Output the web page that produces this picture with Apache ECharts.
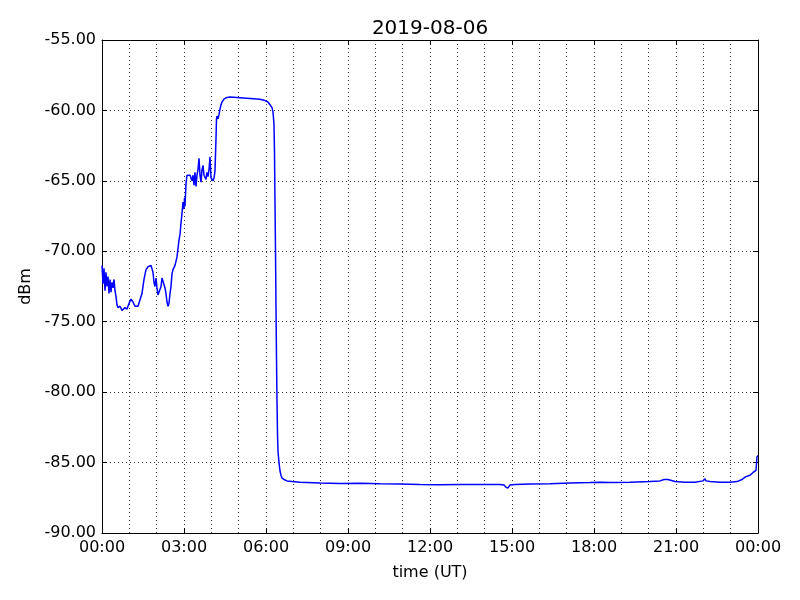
<!DOCTYPE html>
<html>
<head>
<meta charset="utf-8">
<script src="https://cdn.jsdelivr.net/npm/echarts@6/dist/echarts.min.js"></script>
<style>html,body{margin:0;padding:0;background:#fff;}#c{width:800px;height:600px;}</style>
</head>
<body>
<div id="c"></div>
<script>
// Time in hours (UT) since 2019-08-06 00:00
var hours = [0.000,0.037,0.073,0.110,0.146,0.183,0.220,0.256,0.293,0.329,0.366,0.402,0.439,0.476,0.512,0.549,0.585,0.659,0.732,0.805,0.841,0.915,0.988,1.061,1.134,1.207,1.317,1.390,1.463,1.537,1.610,1.683,1.756,1.793,1.866,1.902,1.939,1.976,2.012,2.049,2.122,2.159,2.195,2.232,2.305,2.341,2.378,2.415,2.451,2.488,2.524,2.561,2.598,2.671,2.744,2.780,2.817,2.854,2.890,2.927,2.963,3.000,3.018,3.037,3.073,3.110,3.146,3.183,3.220,3.256,3.293,3.329,3.366,3.402,3.439,3.476,3.512,3.549,3.585,3.622,3.659,3.695,3.732,3.768,3.805,3.841,3.878,3.915,3.951,3.988,4.024,4.061,4.098,4.134,4.171,4.189,4.207,4.244,4.280,4.317,4.354,4.390,4.463,4.537,4.683,5.049,5.415,5.780,5.963,6.073,6.146,6.220,6.256,6.293,6.311,6.329,6.348,6.366,6.384,6.402,6.421,6.439,6.476,6.512,6.549,6.585,6.659,6.768,6.951,7.244,7.976,8.707,9.439,10.171,10.902,11.634,12.366,13.098,13.829,14.561,14.707,14.780,14.817,14.854,14.927,15.110,15.659,16.390,17.122,17.854,18.220,18.585,19.317,20.049,20.415,20.561,20.598,20.634,20.707,20.780,20.963,21.329,21.695,21.988,22.061,22.098,22.171,22.244,22.610,22.976,23.232,23.415,23.561,23.707,23.817,23.927,23.963,24.000];
// Received power (dBm)
var dbm = [-71.0,-72.3,-71.2,-72.8,-71.5,-72.5,-71.8,-73.0,-72.0,-72.9,-72.2,-72.6,-72.0,-72.8,-73.2,-73.8,-74.0,-73.9,-74.2,-74.3,-74.0,-74.1,-73.7,-73.4,-73.6,-73.9,-73.9,-73.9,-73.0,-72.0,-71.3,-71.1,-71.2,-71.0,-71.5,-72.2,-72.5,-71.9,-72.6,-73.1,-73.2,-72.5,-71.9,-72.0,-72.6,-73.0,-73.6,-73.9,-73.7,-73.0,-72.5,-71.6,-71.3,-71.0,-70.4,-69.8,-69.2,-68.8,-68.0,-67.3,-66.5,-67.0,-66.2,-66.8,-65.2,-64.6,-64.5,-64.7,-64.6,-64.8,-65.0,-64.6,-65.3,-64.4,-65.4,-64.6,-64.2,-63.4,-64.6,-65.1,-64.2,-63.9,-64.6,-64.5,-64.9,-64.4,-64.7,-64.2,-63.3,-64.8,-64.9,-65.0,-64.8,-64.3,-62.0,-60.6,-60.4,-60.6,-60.3,-59.9,-59.6,-59.4,-59.2,-59.1,-59.05,-59.1,-59.15,-59.2,-59.3,-59.4,-59.6,-59.8,-60.1,-61.0,-63.0,-66.5,-70.0,-74.0,-77.5,-80.6,-83.0,-84.2,-85.0,-85.6,-85.9,-86.1,-86.2,-86.3,-86.35,-86.4,-86.45,-86.48,-86.47,-86.5,-86.52,-86.55,-86.57,-86.56,-86.55,-86.56,-86.6,-86.75,-86.65,-86.8,-86.6,-86.55,-86.52,-86.5,-86.45,-86.42,-86.4,-86.42,-86.4,-86.35,-86.3,-86.2,-86.1,-86.25,-86.2,-86.3,-86.35,-86.4,-86.4,-86.3,-86.15,-86.3,-86.25,-86.35,-86.4,-86.4,-86.35,-86.2,-86.0,-85.9,-85.7,-85.55,-84.6,-84.5];
var titleText = "2019-08-06";
var xName = "time (UT)";
var yName = "dBm";

var data = hours.map(function (h, i) { return [h, dbm[i]]; });
function pad(n) { return (n < 10 ? "0" : "") + n; }
var font = "DejaVu Sans";
var dotted = { color: "#000", width: 0.8, type: [1, 3] };

var chart = echarts.init(document.getElementById("c"), null, { renderer: "canvas" });
chart.setOption({
  animation: false,
  backgroundColor: "#fff",
  title: { text: titleText, left: 425, top: 14, textAlign: "center",
    textStyle: { fontFamily: font, fontSize: 20, fontWeight: "normal", color: "#000" } },
  grid: { left: 102, right: 42, top: 40, bottom: 67 },
  xAxis: [{
    type: "value", min: 0, max: 24, interval: 3,
    name: xName, nameLocation: "middle", nameGap: 32,
    nameTextStyle: { fontFamily: font, fontSize: 16, color: "#000" },
    axisLine: { onZero: false, lineStyle: { color: "#000", width: 1 } },
    axisTick: { inside: true, length: 5, lineStyle: { color: "#000" } },
    minorTick: { show: false, splitNumber: 3 },
    axisLabel: { fontFamily: font, fontSize: 16, color: "#000", margin: 7,
      formatter: function (v) { return pad(Math.round(v) % 24) + ":00"; } },
    splitLine: { show: true, lineStyle: dotted },
    minorSplitLine: { show: true, lineStyle: dotted }
  }, {
    type: "value", min: 0, max: 24, interval: 3, position: "top",
    axisLine: { onZero: false, lineStyle: { color: "#000", width: 1 } },
    axisTick: { inside: true, length: 5, lineStyle: { color: "#000" } },
    axisLabel: { show: false }, splitLine: { show: false }
  }],
  yAxis: [{
    type: "value", min: -90, max: -55, interval: 5,
    name: yName, nameLocation: "middle", nameGap: 68, nameRotate: 90,
    nameTextStyle: { fontFamily: font, fontSize: 16, color: "#000" },
    axisLine: { onZero: false, lineStyle: { color: "#000", width: 1 } },
    axisTick: { inside: true, length: 5, lineStyle: { color: "#000" } },
    axisLabel: { fontFamily: font, fontSize: 16, color: "#000", margin: 6,
      formatter: function (v) { return v.toFixed(2); } },
    splitLine: { show: true, lineStyle: dotted }
  }, {
    type: "value", min: -90, max: -55, interval: 5, position: "right",
    axisLine: { onZero: false, lineStyle: { color: "#000", width: 1 } },
    axisTick: { inside: true, length: 5, lineStyle: { color: "#000" } },
    axisLabel: { show: false }, splitLine: { show: false }
  }],
  series: [{
    type: "line", data: data, xAxisIndex: 0, yAxisIndex: 0,
    showSymbol: false, symbol: "none",
    lineStyle: { color: "#0000ff", width: 1.5 }
  }]
});
</script>
</body>
</html>
